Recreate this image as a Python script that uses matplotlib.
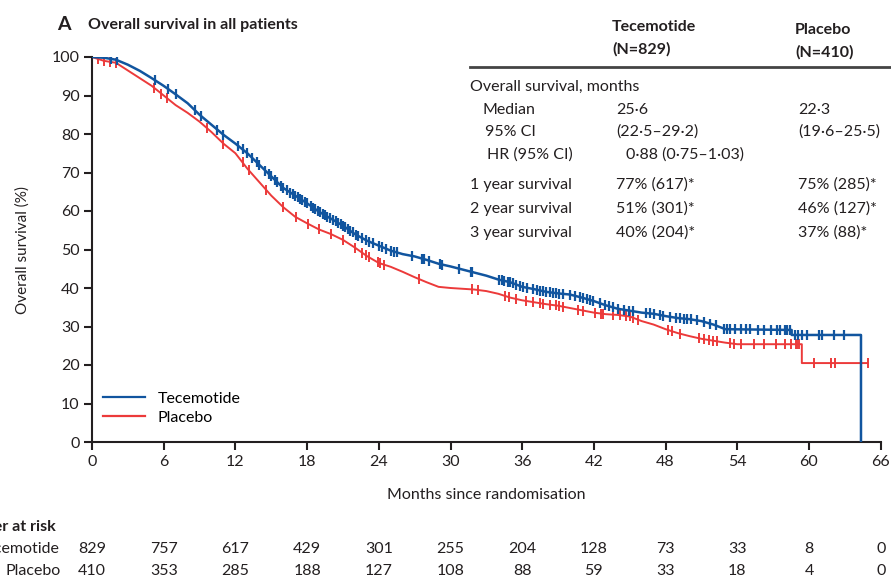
import numpy as np
import matplotlib
matplotlib.use("Agg")
import matplotlib.pyplot as plt
from matplotlib.lines import Line2D

plt.rcParams['font.family'] = ['Lato', 'DejaVu Sans']

# Kaplan-Meier curves (months, % surviving)
tec_t = [0, 1, 2, 3, 4, 5, 6, 7, 8, 9, 10, 11, 12, 13, 14, 15, 16, 17, 18, 19, 20,
         21, 22, 23, 24, 25, 26, 27, 28, 29, 30, 31, 32, 33, 34, 35, 36, 37, 38, 39,
         40, 41, 42, 43, 44, 45, 46, 47, 48, 49, 50, 51, 52, 53, 58.55, 58.55, 64.35, 64.35]
tec_s = [100, 99.8, 99.3, 98, 96.4, 94.5, 92.5, 90.3, 88, 85, 82.4, 79.8, 77.5, 75, 72,
         69, 66, 64, 62, 59.8, 58, 56.2, 54, 52.3, 51, 49.7, 48.8, 48.2, 47.3, 46.3, 45.6,
         44.8, 44, 43.2, 42.2, 41.5, 40.3, 39.7, 39.0, 38.6, 38.3, 37.5, 36.6, 35.5, 34.6,
         34.1, 33.6, 33.3, 32.7, 32.2, 31.9, 31.4, 30.5, 29.3, 29.1, 27.8, 27.8, 0]

pla_t = [0, 1, 2, 3, 4, 5, 6, 7, 8, 9, 10, 11, 12, 13, 14, 15, 16, 17, 18, 19, 20,
         21, 22, 23, 24, 25, 26, 27, 28, 29, 30, 31, 32, 33, 34, 35, 36, 37, 38, 39,
         40, 41, 42, 43, 44, 45, 46, 47, 48, 49, 50, 51, 52, 53, 54, 59.4, 59.4, 64.9]
pla_s = [100, 99, 98.5, 96.5, 94.5, 92.5, 90, 87.5, 85.5, 83.2, 80.5, 77.5, 75, 71, 67.5,
         64, 61, 58.5, 56.8, 55.2, 54, 52.5, 50.5, 48.3, 46.5, 45.5, 44.2, 42.8, 41.5,
         40.3, 40, 39.8, 39.6, 39.2, 38.5, 37.5, 36.8, 36.3, 35.8, 35.4, 34.8, 34.2, 33.6,
         33.2, 33, 32.6, 31.4, 30.5, 29.3, 28.3, 27.5, 26.8, 26.3, 25.8, 25.4, 25.4, 20.5, 20.5]

# censoring times (months)
tec_cens = [1.6, 2.1, 5.3, 6.4, 7.0, 8.6, 9.1, 10.5, 11.0, 12.2, 12.6, 13.0, 13.4, 13.8,
            14.0, 14.5, 14.8, 15.0, 15.3, 15.5, 15.8, 16.0, 16.3, 16.6, 16.8, 17.0, 17.2,
            17.4, 17.6, 17.8, 18.0, 18.3, 18.5, 18.7, 18.9, 19.1, 19.3, 19.5, 19.7, 19.9,
            20.2, 20.4, 20.6, 20.8, 21.0, 21.2, 21.4, 21.6, 21.8, 22.1, 22.3, 22.6, 22.9,
            23.2, 23.5, 24.0, 24.3, 24.6, 25.0, 25.3, 25.5, 26.8, 27.6, 27.8, 28.2, 29.1,
            29.3, 30.7, 31.7, 31.8, 34.1, 34.3, 34.5, 34.8, 35.0, 35.2, 35.5, 35.8, 36.1,
            36.4, 36.9, 37.2, 37.5, 37.7, 38.0, 38.3, 38.6, 38.8, 39.1, 39.4, 40.0, 40.4,
            40.8, 41.1, 41.4, 41.7, 41.9, 42.5, 42.9, 43.3, 43.6, 44.0, 44.5, 44.9, 45.3,
            46.4, 46.7, 47.0, 47.5, 47.8, 48.4, 48.9, 49.2, 49.5, 49.8, 50.1, 50.6, 51.2,
            51.7, 52.2, 52.9, 53.1, 53.4, 53.8, 54.3, 54.7, 55.1, 55.7, 56.2, 56.8, 57.3,
            57.6, 58.0, 58.2, 58.4, 58.8, 59.1, 59.4, 59.8, 60.8, 61.1, 62.1, 62.9]
pla_cens = [0.5, 1.0, 1.5, 2.0, 5.2, 5.8, 6.3, 9.6, 11.0, 12.6, 13.1, 14.6, 16.0, 17.1,
            18.1, 19.0, 20.0, 21.0, 22.0, 22.6, 22.9, 23.2, 23.9, 24.1, 24.4, 27.4, 31.8,
            32.3, 34.6, 34.9, 35.5, 36.3, 36.9, 37.5, 37.7, 38.3, 38.8, 39.1, 39.4, 40.7,
            41.1, 42.1, 42.6, 42.8, 43.6, 44.2, 44.7, 45.0, 45.3, 45.7, 48.2, 48.5, 49.2,
            50.8, 51.2, 51.6, 52.0, 52.3, 53.4, 53.7, 54.3, 55.4, 56.2, 57.2, 58.0, 58.5,
            58.9, 59.0, 59.2, 60.4, 61.8, 62.2, 64.9]

x_ticks = [0, 6, 12, 18, 24, 30, 36, 42, 48, 54, 60, 66]
risk_tec = [829, 757, 617, 429, 301, 255, 204, 128, 73, 33, 8, 0]
risk_pla = [410, 353, 285, 188, 127, 108, 88, 59, 33, 18, 4, 0]

blue = '#11559f'
red = '#ec3a3a'
txt = '#231f20'

fig = plt.figure(figsize=(8.91, 5.81), dpi=100)
ax = fig.add_axes([92 / 891, 139 / 581, 788.7 / 891, 385 / 581])

ax.plot(tec_t, tec_s, color=blue, lw=1.8, zorder=3)
ax.plot(pla_t, pla_s, color=red, lw=1.4, zorder=2)
ax.plot(tec_cens, np.interp(tec_cens, tec_t[:-1], tec_s[:-1]), ls='none', marker='|',
        ms=7, mew=1.6, color=blue, zorder=3)
ax.plot(pla_cens, np.interp(pla_cens, pla_t, pla_s), ls='none', marker='|',
        ms=7, mew=1.4, color=red, zorder=2)

ax.set_xlim(0, 66)
ax.set_ylim(0, 100)
ax.set_xticks(x_ticks)
ax.set_yticks(range(0, 101, 10))
for s in ['top', 'right']:
    ax.spines[s].set_visible(False)
for s in ['left', 'bottom']:
    ax.spines[s].set_linewidth(1.5)
    ax.spines[s].set_color(txt)
ax.tick_params(direction='out', length=6, width=1.5, colors=txt, labelsize=11.5, pad=3)
ax.set_ylabel('Overall survival (%)', fontsize=11, color=txt, labelpad=16)
ax.set_xlabel('Months since randomisation', fontsize=11.5, color=txt, labelpad=14)

handles = [Line2D([], [], color=blue, lw=1.6), Line2D([], [], color=red, lw=1.6)]
ax.legend(handles, ['Tecemotide', 'Placebo'], loc='lower left', bbox_to_anchor=(0.0, 0.015),
          frameon=False, fontsize=11.5, handlelength=2.6, labelspacing=0.3, borderaxespad=0.3)

# panel title
fig.text(57 / 891, 1 - 25 / 581, 'A', fontsize=14, fontweight='bold', color=txt, va='center')
fig.text(88 / 891, 1 - 25 / 581, 'Overall survival in all patients', fontsize=11.5,
         fontweight='bold', color=txt, va='center')

# summary table
def ft(x, y, s, **kw):
    fig.text(x / 891, 1 - y / 581, s, fontsize=11.5, color=txt, va='center', **kw)

ft(612, 27, 'Tecemotide', fontweight='bold')
ft(612, 49, '(N=829)', fontweight='bold')
ft(795, 30, 'Placebo', fontweight='bold')
ft(795, 52, '(N=410)', fontweight='bold')
fig.add_artist(Line2D([470 / 891, 1.0], [1 - 67 / 581, 1 - 67 / 581], color='#444444', lw=2))
rows = [
    (470, 87, 'Overall survival, months', None, None),
    (483, 110, 'Median', '25·6', '22·3'),
    (485, 132, '95% CI', '(22·5–29·2)', '(19·6–25·5)'),
    (487, 155, 'HR (95% CI)', None, None),
    (470, 185, '1 year survival', '77% (617)*', '75% (285)*'),
    (470, 209, '2 year survival', '51% (301)*', '46% (127)*'),
    (470, 233, '3 year survival', '40% (204)*', '37% (88)*'),
]
for x, y, lab, a, b in rows:
    ft(x, y, lab)
    if a:
        ft(616, y, a)
    if b:
        ft(798, y, b)
ft(626, 155, '0·88 (0·75–1·03)')

# number at risk (cut at the left edge, as in the source figure)
ft(56, 527, 'Number at risk', fontweight='bold', ha='right')
ft(60, 549, 'Tecemotide', ha='right')
ft(61, 571, 'Placebo', ha='right')
for t, a, b in zip(x_ticks, risk_tec, risk_pla):
    ax.text(t, -107 / 3.85, str(a), transform=ax.transData, ha='center', va='center',
            fontsize=11.5, color=txt, clip_on=False)
    ax.text(t, -129 / 3.85, str(b), transform=ax.transData, ha='center', va='center',
            fontsize=11.5, color=txt, clip_on=False)

fig.savefig('out.png', dpi=100)
